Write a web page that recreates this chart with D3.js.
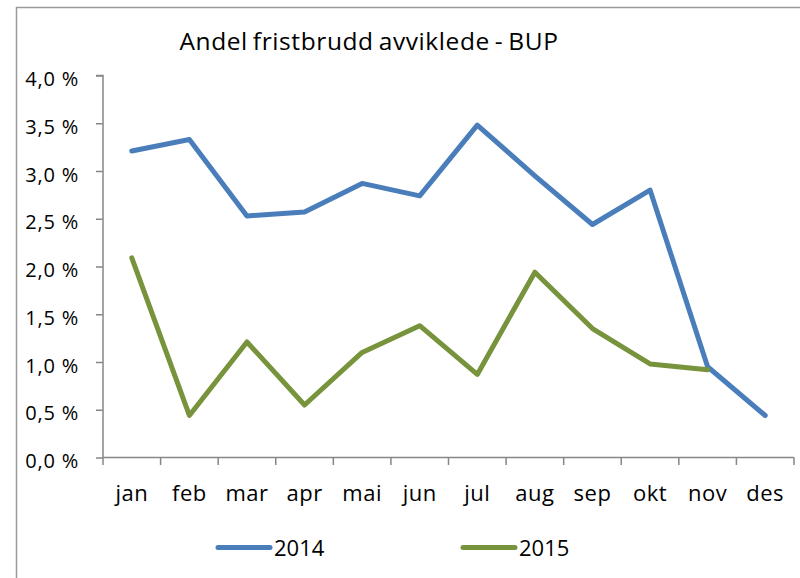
<!DOCTYPE html>
<html><head><meta charset="utf-8">
<script src="https://cdn.jsdelivr.net/npm/d3@7"></script>
<style>html,body{margin:0;padding:0;background:#fff;}svg{display:block;}</style>
</head><body>
<svg id="c" width="800" height="578"></svg>
<script>
const months = ["jan","feb","mar","apr","mai","jun","jul","aug","sep","okt","nov","des"];
const series2014 = [3.21,3.33,2.53,2.57,2.87,2.74,3.48,2.95,2.44,2.80,0.95,0.44];
const series2015 = [2.09,0.44,1.21,0.55,1.10,1.38,0.87,1.94,1.35,0.98,0.92];
const yTicks = [0,0.5,1,1.5,2,2.5,3,3.5,4];
const seriesNames = ["2014","2015"];
const colors = ["#4A7EBB","#77933C"];

const svg = d3.select("#c");
const font = "'Open Sans', 'Noto Sans', sans-serif";

// outer frame
svg.append("rect").attr("x",16.5).attr("y",7.5).attr("width",800).attr("height",600)
  .attr("fill","none").attr("stroke","#9a9a9a").attr("stroke-width",1.5);

const x = d3.scaleBand().domain(months).range([103,794]);
const y = d3.scaleLinear().domain([0,4]).range([457.5,75.5]);

// title
svg.append("text").attr("x",369).attr("y",49.5).attr("text-anchor","middle")
  .attr("font-family",font).attr("font-size",24.5).attr("fill","#000")
  .attr("letter-spacing","0.6px").attr("word-spacing","-2px")
  .text("Andel fristbrudd avviklede - BUP");

// y axis
const ya = svg.append("g").attr("transform","translate(103,0)")
  .call(d3.axisLeft(y).tickValues(yTicks).tickSize(7).tickPadding(17)
    .tickFormat(d => d3.format(".1f")(d).replace(".",",") + " %"));
ya.select(".domain").attr("stroke","#868686").attr("stroke-width",1.5).attr("d","M-7,75.5H0V457.5");
ya.selectAll(".tick line").attr("stroke","#868686").attr("stroke-width",1.5);
ya.selectAll(".tick text").attr("font-family",font).attr("font-size",20).attr("fill","#000")
  .attr("letter-spacing","0.8px").attr("dy","0.5em");

// x axis
const xa = svg.append("g").attr("transform","translate(0,457.5)")
  .call(d3.axisBottom(x).tickSize(0).tickPadding(27.5));
xa.select(".domain").attr("stroke","#868686").attr("stroke-width",1.5).attr("d","M103,0H794");
xa.selectAll(".tick text").attr("font-family",font).attr("font-size",22).attr("fill","#000")
  .attr("letter-spacing","0.5px");
// category boundary ticks
const bounds = months.map(m => x(m)).concat([x.range()[1]]);
svg.append("g").selectAll("line").data(bounds).join("line")
  .attr("x1",d=>d).attr("x2",d=>d).attr("y1",457.5).attr("y2",465)
  .attr("stroke","#868686").attr("stroke-width",1.5);

const cx = m => x(m) + x.bandwidth()/2;
const line = d3.line().x(d=>cx(d.m)).y(d=>y(d.v));
[series2014, series2015].forEach((s,i) => {
  svg.append("path").datum(s.map((v,j)=>({m:months[j],v})))
    .attr("d",line).attr("fill","none").attr("stroke",colors[i])
    .attr("stroke-width",5).attr("stroke-linejoin","round").attr("stroke-linecap","round");
});

// legend
const legX = [218,463];
seriesNames.forEach((n,i) => {
  svg.append("line").attr("x1",legX[i]).attr("x2",legX[i]+52).attr("y1",547.5).attr("y2",547.5)
    .attr("stroke",colors[i]).attr("stroke-width",5).attr("stroke-linecap","round");
  svg.append("text").attr("x",legX[i]+56).attr("y",556).attr("font-family",font)
    .attr("font-size",22).attr("fill","#000").text(n);
});
</script>
</body></html>
